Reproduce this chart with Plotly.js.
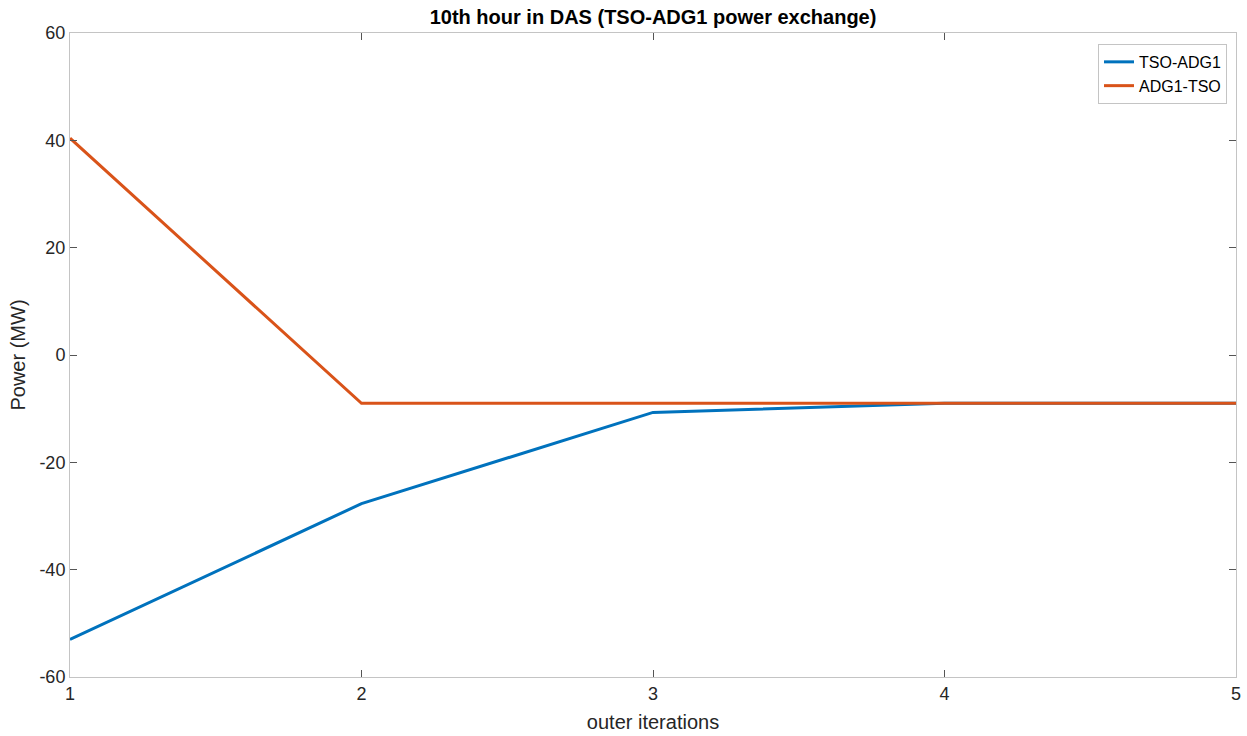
<!DOCTYPE html>
<html>
<head>
<meta charset="utf-8">
<script src="https://cdn.plot.ly/plotly-3.0.1.min.js"></script>
<style>html,body{margin:0;padding:0;background:#fff;}#chart{width:1247px;height:736px;}</style>
</head>
<body>
<div id="chart"></div>
<script>
const iterations = [1, 2, 3, 4, 5];
const tsoAdg1 = [-53.0, -27.7, -10.7, -9.0, -9.0];
const adg1Tso = [40.4, -9.0, -9.0, -9.0, -9.0];
const seriesNames = ['TSO-ADG1', 'ADG1-TSO'];
const xTicks = [1, 2, 3, 4, 5];
const yTicks = [-60, -40, -20, 0, 20, 40, 60];

const FONT = 'Liberation Sans, Arial, sans-serif';

const traces = [
  {x: iterations, y: tsoAdg1, name: seriesNames[0], mode: 'lines', line: {color: '#0072BD', width: 3}},
  {x: iterations, y: adg1Tso, name: seriesNames[1], mode: 'lines', line: {color: '#D95319', width: 3}}
];

const axisCommon = {
  showline: true, mirror: 'ticks', linecolor: '#c4c4c4', linewidth: 1,
  ticks: 'inside', ticklen: 7, tickcolor: '#555', tickwidth: 1,
  showgrid: false, zeroline: false,
  tickfont: {family: FONT, size: 18, color: '#262626'}
};

const layout = {
  width: 1247, height: 736,
  margin: {l: 70, r: 11, t: 33, b: 59},
  paper_bgcolor: '#fff', plot_bgcolor: '#fff',
  title: {text: '<b>10th hour in DAS (TSO-ADG1 power exchange)</b>', x: 0.5237, xanchor: 'center', y: 0.977, yanchor: 'middle',
    font: {family: FONT, size: 20, color: '#000'}},
  xaxis: Object.assign({}, axisCommon, {range: [1, 5], tickvals: xTicks, ticktext: xTicks.map(String),
    title: {text: 'outer iterations', standoff: 12, font: {family: FONT, size: 20, color: '#262626'}}}),
  yaxis: Object.assign({}, axisCommon, {range: [-60, 60], tickvals: yTicks, ticktext: yTicks.map(String),
    title: {text: 'Power (MW)', standoff: 8, font: {family: FONT, size: 20, color: '#262626'}}}),
  showlegend: true,
  legend: {x: 0.9923, xanchor: 'right', y: 0.983, yanchor: 'top', bgcolor: '#fff', bordercolor: '#c4c4c4', borderwidth: 1,
    font: {family: FONT, size: 16, color: '#000'}, tracegroupgap: 0, itemwidth: 30}
};

Plotly.newPlot('chart', traces, layout, {displayModeBar: false, staticPlot: true});
</script>
</body>
</html>
